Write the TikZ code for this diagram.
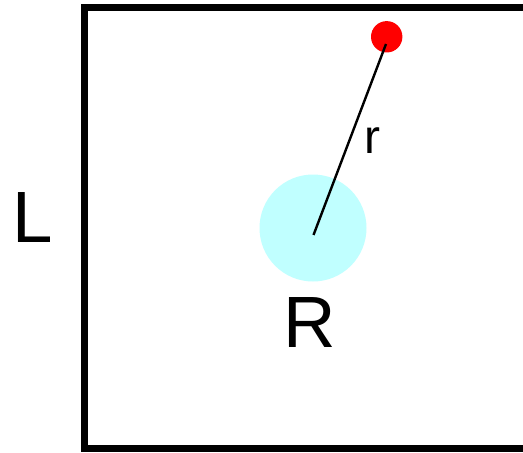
\documentclass[tikz,border=0pt]{standalone}
\usepackage{fontspec}
\setmainfont{Liberation Sans}
\definecolor{lightcyan}{RGB}{192,255,255}
\begin{document}
\begin{tikzpicture}[x=0.75pt,y=-0.75pt,
  bigtext/.style={font=\fontsize{54.5pt}{60pt}\selectfont, inner sep=0pt, anchor=base},
  smalltext/.style={font=\fontsize{36pt}{40pt}\selectfont, inner sep=0pt, anchor=base},
  frame/.style={draw=black, line width=5.6pt}]
\useasboundingbox (0,0) rectangle (523,452);
\clip (0,0) rectangle (523,452);
\fill[white] (0,0) rectangle (523,452);
\draw[frame] (84.5,7.5) rectangle (530,448.5);
\fill[lightcyan] (313,228) circle[radius=53.5];
\fill[red] (386.7,36.8) circle[radius=15.7];
\coordinate (c) at (313.5,235);
\coordinate (p) at (386,44);
\draw[line width=1.8pt] (c) -- (p);
\node[smalltext] (rl) at (372.5,154) {r};
\node[bigtext] (Rl) at (310,347) {R};
\node[bigtext] (Ll) at (33,242.7) {L};
\end{tikzpicture}
\end{document}
